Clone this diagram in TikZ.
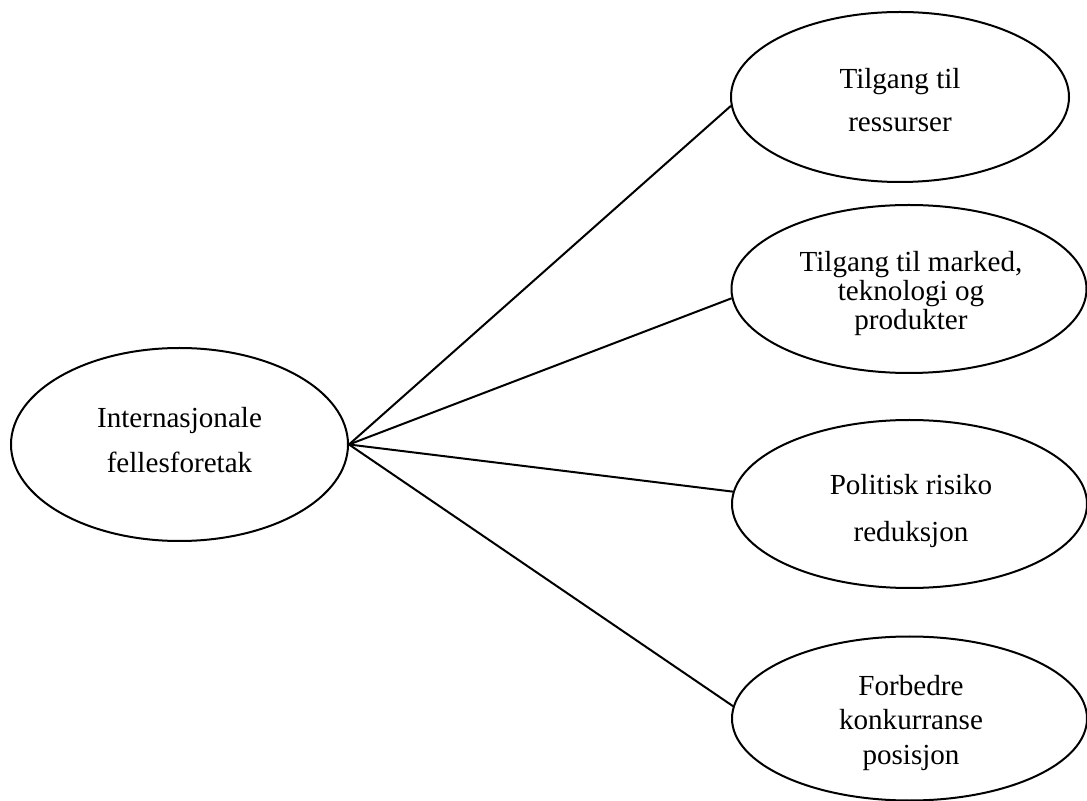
\documentclass[tikz,border=0pt]{standalone}
\usepackage{fontspec}
\setmainfont{Liberation Serif}
\usetikzlibrary{shapes.geometric}
\begin{document}
\begin{tikzpicture}[x=0.5pt, y=-0.5pt,
  oval/.style={draw, ellipse, line width=1pt, inner sep=0pt},
  caption/.style={inner sep=0pt, align=center},
  link/.style={line width=1pt}]
  \useasboundingbox (0,0) rectangle (1087,801);
  % ellipses
  \node[oval, minimum width=168.5pt, minimum height=96.5pt] (jv) at (179.5,444.5) {};
  \node[oval, minimum width=169pt, minimum height=85pt] (res) at (900,97) {};
  \node[oval, minimum width=177.5pt, minimum height=84pt] (mkt) at (909,289) {};
  \node[oval, minimum width=177.5pt, minimum height=84pt] (pol) at (909.5,504) {};
  \node[oval, minimum width=177.5pt, minimum height=82pt] (kon) at (909.5,718.5) {};
  % their texts
  \node[caption, font=\fontsize{14.55}{22.5}\selectfont] (jv-t) at (179.5,440.5)
        {Internasjonale\\fellesforetak};
  \node[caption, font=\fontsize{14.55}{21.5}\selectfont] (res-t) at (900,100)
        {Tilgang til\\ressurser};
  \node[caption, font=\fontsize{14.55}{14.6}\selectfont] (mkt-t) at (911,293.5)
        {Tilgang til marked,\\teknologi og\\produkter};
  \node[caption, font=\fontsize{14.55}{23.5}\selectfont] (pol-t) at (911,511)
        {Politisk risiko\\reduksjon};
  \node[caption, font=\fontsize{14.55}{17.2}\selectfont] (kon-t) at (911,723)
        {Forbedre\\konkurranse\\posisjon};
  % connectors
  \draw[link] (jv.east) -- (res.183.8);
  \draw[link] (jv.east) -- (mkt.183.9);
  \draw[link] (jv.east) -- (pol.176.6);
  \draw[link] (jv.east) -- (kon.176.6);
\end{tikzpicture}
\end{document}
